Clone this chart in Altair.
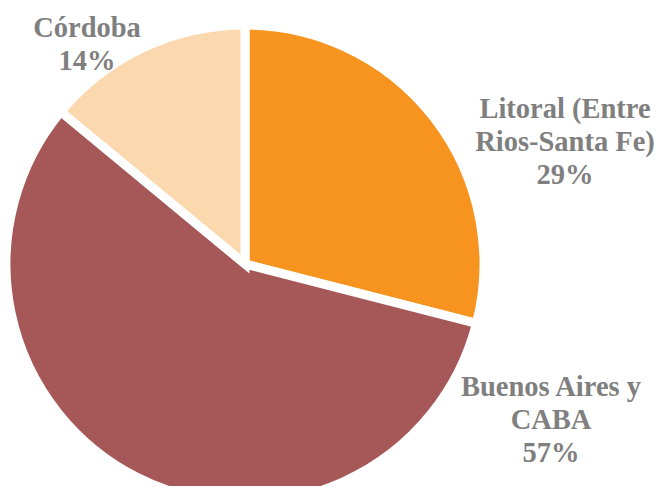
import altair as alt
import pandas as pd

regions = ["Litoral (Entre Rios-Santa Fe)", "Buenos Aires y CABA", "Córdoba"]
shares = [29, 57, 14]
colors = ["#F7941F", "#A65757", "#FBD8AE"]
label_texts = ["Litoral (Entre\nRios-Santa Fe)\n29%", "Buenos Aires y\nCABA\n57%", "Córdoba\n14%"]

df = pd.DataFrame({"region": regions, "share": shares, "idx": list(range(len(regions)))})

pie = alt.Chart(df).mark_arc(
    outerRadius=239, stroke="white", strokeWidth=9
).encode(
    theta=alt.Theta("share:Q", stack=True),
    order=alt.Order("idx:O"),
    color=alt.Color("region:N", scale=alt.Scale(domain=regions, range=colors), legend=None),
    x=alt.value(237),
    y=alt.value(256),
)

label_pos = [(557, 110), (543, 388), (79, 29)]
layers = [pie]
for txt, (lx, ly) in zip(label_texts, label_pos):
    layers.append(
        alt.Chart(pd.DataFrame({"t": [txt]})).mark_text(
            font="Liberation Serif", fontWeight="bold", fontSize=28.5, color="#7F7F7F",
            lineBreak="\n", lineHeight=33, align="center", baseline="alphabetic"
        ).encode(text="t:N", x=alt.value(lx), y=alt.value(ly))
    )

chart = alt.layer(*layers).properties(
    width=647, height=478, autosize=alt.AutoSizeParams(type="none"), padding=0
).configure_view(stroke=None)

chart.save("out.html", embed_options={"renderer": "svg", "actions": False})
